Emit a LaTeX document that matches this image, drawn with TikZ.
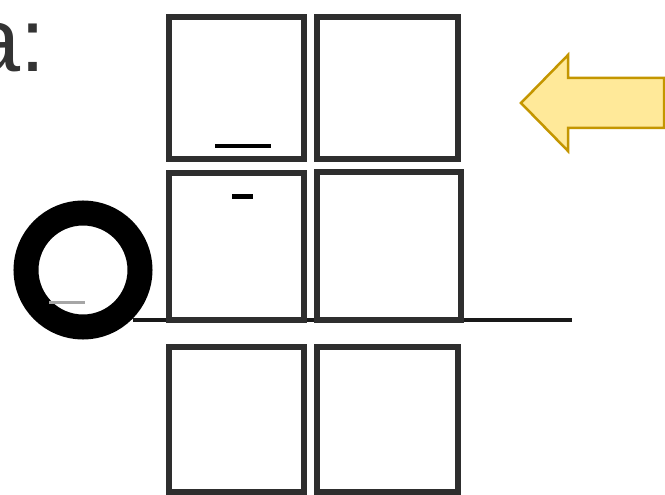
\documentclass[tikz,border=0pt]{standalone}
\usepackage{fontspec}
\newfontfamily\lblfont{Liberation Sans}
\definecolor{arrfill}{RGB}{255,233,153}
\definecolor{arrdraw}{RGB}{196,150,0}
\begin{document}
\begin{tikzpicture}[x=1pt,y=-1pt,
  cell/.style={draw=black!82,line width=6pt,fill=white,inner sep=0pt},
  dashmark/.style={black,line width=4pt},
  ring/.style={circle,draw=black,line width=25pt,minimum size=114pt,inner sep=0pt},
  bigarrow/.style={draw=arrdraw,line width=2.5pt,fill=arrfill,line join=miter}]
\useasboundingbox (0,0) rectangle (665,495);
\clip (0,0) rectangle (665,495);
% label
\node[anchor=base west,inner sep=0pt,text=black!80,font=\lblfont\fontsize{90}{90}\selectfont] (lbl) at (-30,72) {a:};
% baseline
\coordinate (lineS) at (133,320);
\coordinate (lineE) at (572,320);
\draw[black!90,line width=4pt] (lineS) -- (lineE);
% cells
\node[cell,minimum width=135pt,minimum height=142pt] (c11) at (236.5,88) {};
\node[cell,minimum width=141pt,minimum height=142pt] (c12) at (387.5,88) {};
\node[cell,minimum width=135pt,minimum height=147pt] (c21) at (236.5,246.5) {};
\node[cell,minimum width=144pt,minimum height=148pt] (c22) at (389,246) {};
\node[cell,minimum width=135pt,minimum height=145pt] (c31) at (236.5,419.5) {};
\node[cell,minimum width=141pt,minimum height=145pt] (c32) at (387.5,419.5) {};
% small marks
\draw[dashmark] (215,146) -- (271,146);
\draw[black,line width=5pt] (232,196) -- (253,196);
% ring
\node[ring] (o) at (83,270) {};
\draw[black!35,line width=3pt] (49,302) -- (85,302);
% arrow
\draw[bigarrow] (521,103) -- (568,55) -- (568,78) -- (664,78) -- (664,128) -- (568,128) -- (568,151) -- cycle;
\end{tikzpicture}
\end{document}
